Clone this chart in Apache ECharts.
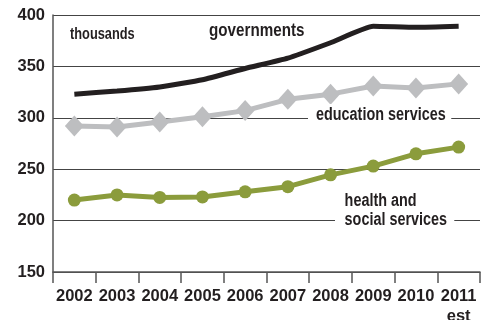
<!DOCTYPE html>
<html><head><meta charset="utf-8">
<script src="https://cdn.jsdelivr.net/npm/echarts@6/dist/echarts.min.js"></script>
<style>html,body{margin:0;padding:0;background:#fff}#c{width:485px;height:320px}</style>
</head><body><div id="c"></div>
<script>
var categories = ['2002','2003','2004','2005','2006','2007','2008','2009','2010','2011'];
var categoryLabels = ['2002','2003','2004','2005','2006','2007','2008','2009','2010','2011\nest'];
var governments = [323, 326, 330, 337, 348, 358, 373, 389, 388, 389];
var education = [292, 291, 296, 301, 307, 318, 323, 331, 329, 333];
var health = [220, 225, 222.5, 223, 228, 233, 244.5, 253, 265, 271.5];
var yTicks = [150, 200, 250, 300, 350, 400];

var FONT = '"Liberation Sans",Arial,sans-serif';
var TXT = '#231f20';
var SX = 0.8;
function label(text, x, y, size, opts) {
  var st = {text:text, fill:TXT, font:'bold ' + size + 'px ' + FONT, verticalAlign:'middle', align:'left'};
  if (opts) for (var k in opts) st[k] = opts[k];
  return {type:'text', x:x, y:y, scaleX:SX, originX:0, z:10, style:st};
}
var chart = echarts.init(document.getElementById('c'), null, {renderer:'canvas'});
chart.setOption({
  animation:false,
  grid:{left:53, right:5, top:15, bottom:48, containLabel:false, outerBoundsMode:'none'},
  xAxis:{type:'category', data:categories, boundaryGap:true,
    axisLine:{lineStyle:{color:'#555', width:1.5}},
    axisTick:{show:true, length:11, lineStyle:{color:'#555', width:1.5}},
    axisLabel:{interval:0, color:TXT, fontFamily:FONT, fontWeight:'bold', fontSize:16.5, margin:14, lineHeight:20,
      formatter:function(v,i){return categoryLabels[i];}},
    splitLine:{show:false}},
  yAxis:{type:'value', min:yTicks[0], max:yTicks[yTicks.length-1], interval:50,
    axisLine:{show:true, lineStyle:{color:'#555', width:1.5}},
    axisTick:{show:false},
    axisLabel:{color:TXT, fontFamily:FONT, fontWeight:'bold', fontSize:16.5, margin:8},
    splitLine:{lineStyle:{color:'#444', width:1.2}}},
  series:[
    {name:'health', type:'line', data:health, symbol:'circle', symbolSize:13,
      lineStyle:{color:'#8b9c3c', width:5}, itemStyle:{color:'#8b9c3c'}, z:3},
    {name:'education', type:'line', data:education, symbol:'diamond', symbolSize:[19,21],
      lineStyle:{color:'#bdbec0', width:5}, itemStyle:{color:'#bdbec0'}, z:3},
    {name:'governments', type:'line', data:governments, symbol:'none', smooth:0.15,
      lineStyle:{color:'#231f20', width:5}, z:4}
  ],
  graphic:[
    label('thousands', 70, 35, 16),
    label('governments', 209, 31, 19),
    label('education services', 308, 115, 18, {backgroundColor:'#fff', padding:[2,7,2,10]}),
    label('health and\nsocial services', 335, 211, 18, {lineHeight:19, backgroundColor:'#fff', padding:[2,9,2,12]})
  ]
});
</script></body></html>
